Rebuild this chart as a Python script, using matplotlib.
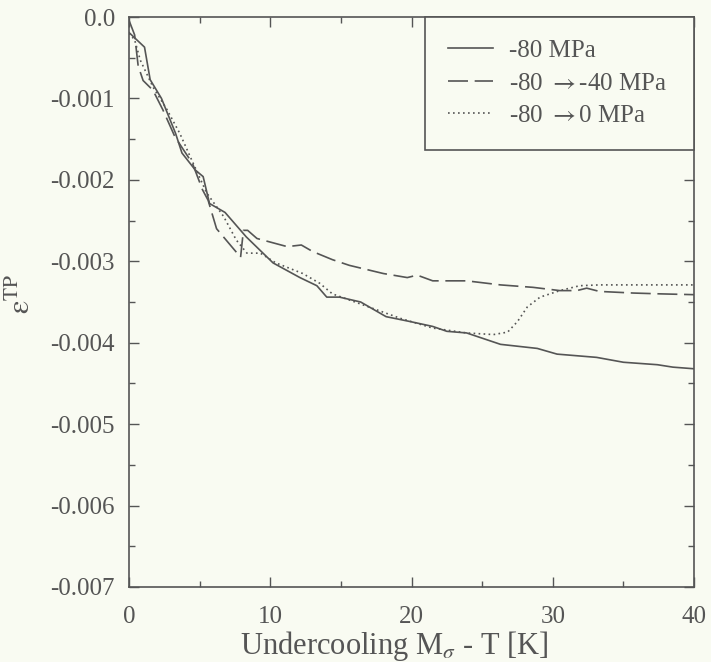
import matplotlib
matplotlib.use("Agg")
import matplotlib.pyplot as plt
from matplotlib.ticker import FixedLocator, MultipleLocator

plt.rcParams["font.family"] = ["Liberation Serif", "DejaVu Serif"]
plt.rcParams["mathtext.fontset"] = "stix"
plt.rcParams["axes.unicode_minus"] = False

# -80 MPa (solid)
x_const = [0.0, 1.1, 1.5, 2.3, 3.3, 3.75, 4.7, 5.25, 5.7, 6.8, 8.3, 10.2, 12.1, 13.3,
           14.0, 14.9, 16.4, 18.2, 19.9, 21.5, 22.5, 23.9, 26.3, 28.9, 30.3, 33.1,
           35.0, 37.4, 38.5, 40.0]
y_const = [-0.19, -0.37, -0.77, -1.00, -1.43, -1.67, -1.88, -1.96, -2.29, -2.40, -2.70,
           -3.02, -3.20, -3.30, -3.44, -3.44, -3.50, -3.68, -3.74, -3.80, -3.86, -3.88,
           -4.02, -4.07, -4.14, -4.18, -4.24, -4.27, -4.30, -4.32]

# -80 -> -40 MPa (dashed)
x_half = [0.0, 0.4, 0.65, 1.0, 1.7, 2.4, 3.25, 4.5, 5.2, 5.6, 6.2, 7.9, 8.1, 8.4, 9.06,
          11.2, 12.2, 13.0, 14.4, 15.6, 18.0, 19.7, 20.4, 21.5, 23.9, 26.3, 28.6, 30.5,
          31.7, 32.4, 33.3, 35.7, 37.6, 40.0]
y_half = [-0.04, -0.22, -0.60, -0.78, -0.90, -1.14, -1.47, -1.80, -2.12, -2.25, -2.60,
          -2.95, -2.62, -2.62, -2.72, -2.82, -2.80, -2.88, -2.98, -3.05, -3.15, -3.20,
          -3.17, -3.24, -3.24, -3.29, -3.32, -3.36, -3.36, -3.33, -3.37, -3.39, -3.40,
          -3.41]

# -80 -> 0 MPa (dotted)
x_zero = [0.0, 0.4, 0.8, 1.7, 2.7, 3.6, 4.45, 5.5, 6.7, 7.6, 8.35, 9.3, 10.4, 12.3, 13.5,
          14.4, 16.8, 19.2, 21.5, 23.9, 25.8, 26.8, 27.5, 28.2, 29.1, 30.5, 31.9, 33.3,
          40.0]
y_zero = [-0.20, -0.28, -0.53, -0.86, -1.14, -1.43, -1.76, -2.16, -2.45, -2.74, -2.90,
          -2.90, -3.02, -3.15, -3.27, -3.40, -3.55, -3.70, -3.82, -3.88, -3.90, -3.87,
          -3.74, -3.56, -3.44, -3.36, -3.30, -3.29, -3.29]

labels = ["-80 MPa", r"-80 ${\rightarrow}$-40 MPa", r"-80 ${\rightarrow}$0 MPa"]
y_ticks = [0.0, -0.001, -0.002, -0.003, -0.004, -0.005, -0.006, -0.007]
y_ticklabels = ["0.0", "-0.001", "-0.002", "-0.003", "-0.004", "-0.005", "-0.006", "-0.007"]
x_ticks = [0, 10, 20, 30, 40]

bg = "#f9fbf2"
ink = "#555555"

fig = plt.figure(figsize=(7.11, 6.62), dpi=100, facecolor=bg)
ax = fig.add_axes([0.1814, 0.1133, 0.7948, 0.861], facecolor=bg)

scale = 1e-3
ax.plot(x_const, [v * scale for v in y_const], color=ink, lw=1.2, ls="-", label=labels[0])
ax.plot(x_half, [v * scale for v in y_half], color=ink, lw=1.2, ls=(0, (12, 4)), label=labels[1])
ax.plot(x_zero, [v * scale for v in y_zero], color=ink, lw=1.2, ls=(0, (1, 2)), label=labels[2])

ax.set_xlim(0, 40)
ax.set_ylim(-0.007, 0.0)
ax.xaxis.set_major_locator(FixedLocator(x_ticks))
ax.xaxis.set_minor_locator(MultipleLocator(5))
ax.yaxis.set_major_locator(FixedLocator(y_ticks))
ax.set_yticklabels(y_ticklabels)
ax.yaxis.set_minor_locator(MultipleLocator(0.0005))
ax.tick_params(which="both", direction="in", top=True, right=True, colors=ink,
               labelsize=18, width=1)
ax.tick_params(which="major", length=7)
ax.tick_params(which="minor", length=4)
ax.tick_params(axis="y", which="major", pad=10)
ax.tick_params(axis="x", which="major", pad=14)
for sp in ax.spines.values():
    sp.set_color(ink)
    sp.set_linewidth(1.2)

ax.set_xlabel(r"Undercooling M$_\sigma$ - T [K]", fontsize=22, color=ink)
ax.xaxis.set_label_coords(0.469, -0.074)
ax.set_ylabel(r"$\mathrm{ε}^{\mathrm{TP}}$", fontsize=22, color=ink)
ax.yaxis.set_label_coords(-0.162, 0.515)

leg = ax.legend(loc="upper right", bbox_to_anchor=(0.524, 0.0, 0.476, 1.0), mode="expand",
                borderaxespad=0, fancybox=False, framealpha=1, facecolor=bg,
                edgecolor=ink, fontsize=18, handlelength=1.8, handletextpad=0.65,
                labelspacing=0.4, borderpad=0.9)
leg.get_frame().set_linewidth(1.2)
for t in leg.get_texts():
    t.set_color(ink)

fig.savefig("out.png", dpi=100, facecolor=bg)
